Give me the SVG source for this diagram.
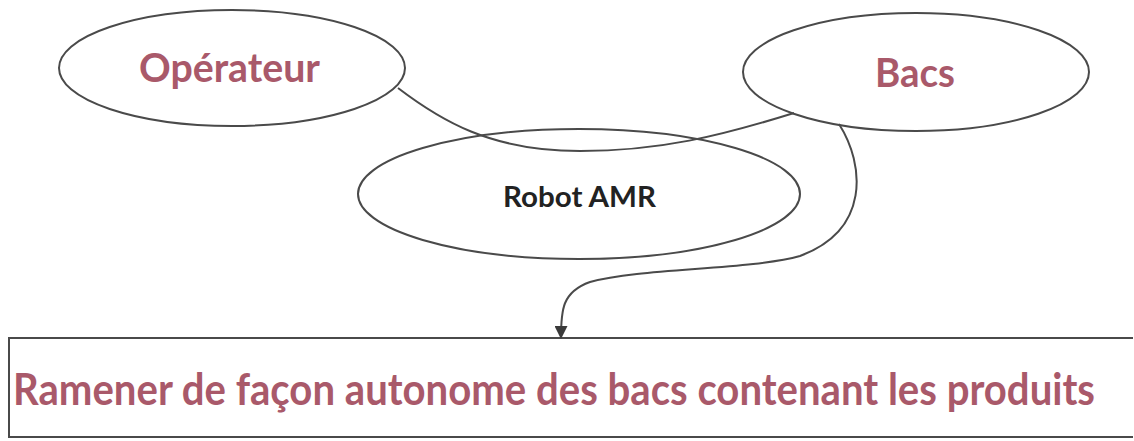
<svg xmlns="http://www.w3.org/2000/svg" width="1134" height="441" viewBox="0 0 1134 441">
<style>
.shape{fill:#fff;stroke:#4a4a4a;stroke-width:2}
.conn{fill:none;stroke:#4a4a4a;stroke-width:2}
.t{font-family:Lato,"Liberation Sans",sans-serif;font-weight:bold}
.rose{fill:#a9596a}
.dark{fill:#222}
</style>
<defs>
<marker id="arr" viewBox="0 0 12 12" refX="11" refY="6" markerWidth="13" markerHeight="13" markerUnits="userSpaceOnUse" orient="auto">
<path d="M0,0 L12,6 L0,12 Z" fill="#3a3a3a"/>
</marker>
</defs>
<rect width="1134" height="441" fill="#fff"/>
<g id="node-result">
<path class="shape" d="M1133,338 H9 V437 H1133"/>
<text class="t rose" transform="translate(13,405) scale(1,1.1)" x="0" y="0" font-size="40" textLength="1082" lengthAdjust="spacingAndGlyphs">Ramener de façon autonome des bacs contenant les produits</text>
</g>
<g id="node-robot">
<ellipse class="shape" cx="579" cy="194" rx="221" ry="65"/>
<text class="t dark" x="503" y="207" font-size="28" textLength="153" lengthAdjust="spacingAndGlyphs">Robot AMR</text>
</g>
<g id="node-operateur">
<ellipse class="shape" cx="232" cy="68" rx="173" ry="58"/>
<text class="t rose" x="139" y="82" font-size="40" textLength="181" lengthAdjust="spacingAndGlyphs">Opérateur</text>
</g>
<g id="node-bacs">
<ellipse class="shape" cx="916" cy="72" rx="173" ry="59"/>
<text class="t rose" x="875" y="87" font-size="40" textLength="80" lengthAdjust="spacingAndGlyphs">Bacs</text>
</g>
<g id="connectors">
<path class="conn" d="M398,88 C440,120 490,151 580,151 C660,151 720,136 794,113"/>
<path class="conn" d="M839,124 C865,165 870,230 800,256 C750,270 640,268 590,282 C562,292 561,310 561,338" marker-end="url(#arr)"/>
</g>
</svg>
